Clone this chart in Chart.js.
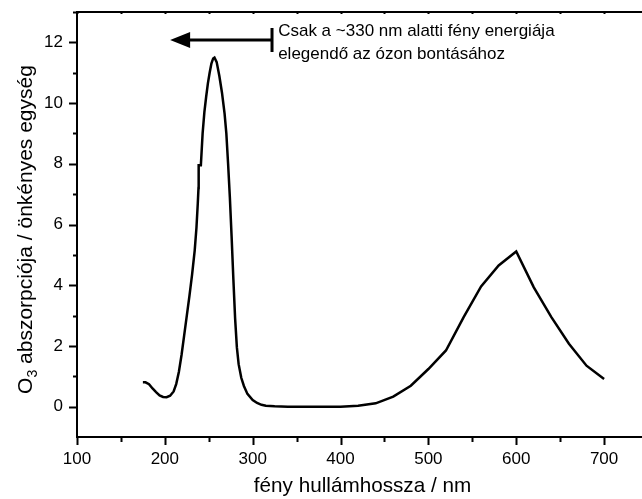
<!DOCTYPE html>
<html>
<head>
<meta charset="utf-8">
<title>O3 abszorpció</title>
<script src="https://cdn.jsdelivr.net/npm/chart.js@4.4.0/dist/chart.umd.min.js"></script>
<style>
  html, body { margin: 0; padding: 0; background: #fff; overflow: hidden; }
  #wrap { position: absolute; left: 0; top: 0; width: 680px; height: 499px; }
</style>
</head>
<body>
<div id="wrap"><canvas id="ozoneChart" width="680" height="499"></canvas></div>
<script>
/** Data **/
// wavelength / nm
var wavelengths = [
    175, 178, 182, 186, 190, 194, 198, 202, 206, 210, 213, 216, 219, 222, 225, 228, 231, 234, 236, 237.5,
    238.3, 238.5, 241, 243, 245, 247, 249, 251, 253, 255, 256.5, 259, 262, 265, 268, 270, 272, 274, 276, 278, 280, 282,
    284, 287, 290, 294, 300, 305, 310, 315, 325, 340, 400, 420, 440, 460, 480, 500, 520, 540, 560, 580, 600, 620, 640,
    660, 680, 700
];
// O3 absorption / arbitrary units
var absorbance = [
    0.80, 0.80, 0.74, 0.60, 0.48, 0.37, 0.32, 0.31, 0.36, 0.50, 0.75, 1.15, 1.70, 2.35, 3.00, 3.65, 4.35, 5.15, 5.90, 6.70,
    7.20, 7.95, 7.95, 9.00, 9.70, 10.20, 10.65, 11.00, 11.30, 11.47, 11.50, 11.35, 10.90, 10.35, 9.65, 9.00, 8.00, 6.90, 5.60, 4.20, 2.90, 1.95,
    1.40, 0.95, 0.68, 0.42, 0.22, 0.12, 0.06, 0.03, 0.01, 0.00, 0.00, 0.03, 0.11, 0.33, 0.69, 1.24, 1.85, 2.94, 3.96, 4.65, 5.11, 3.93, 2.95,
    2.07, 1.35, 0.91
];
var xTickLabels = [100, 200, 300, 400, 500, 600, 700];
var yTickLabels = [0, 2, 4, 6, 8, 10, 12];

// note with the arrow (in data units)
var arrowStart = 322;
var arrowEnd = 206;
var arrowLevel = 12.08;
var noteX = 329;
var noteLines = ['Csak a ~330 nm alatti fény energiája', 'elegendő az ózon bontásához'];
var noteLevels = [12.37, 11.62];

var xTitle = 'fény hullámhossza / nm';
var yTitleParts = ['O', '3', ' abszorpciója / önkényes egység'];

var FONT = '"Liberation Sans", Arial, sans-serif';
Chart.defaults.font.family = FONT;
Chart.defaults.color = '#000';

var points = wavelengths.map(function (w, i) { return { x: w, y: absorbance[i] }; });

// tick marks: long ones at labelled values, short ones between, plus the top frame line
var tickMarks = {
    id: 'tickMarks',
    afterDraw: function (chart) {
        var ctx = chart.ctx;
        var xs = chart.scales.x, ys = chart.scales.y;
        var area = chart.chartArea;
        ctx.save();
        ctx.strokeStyle = '#000';
        ctx.lineWidth = 2;
        ctx.lineCap = 'butt';
        xs.ticks.forEach(function (t) {
            var px = Math.round(xs.getPixelForValue(t.value)) + 0.5;
            var len = xTickLabels.indexOf(t.value) >= 0 ? 8 : 5;
            ctx.beginPath();
            ctx.moveTo(px, area.bottom);
            ctx.lineTo(px, area.bottom + len);
            ctx.moveTo(px, area.top);
            ctx.lineTo(px, area.top + 2);
            ctx.stroke();
        });
        ys.ticks.forEach(function (t) {
            if (t.value === ys.min) return;
            var py = Math.round(ys.getPixelForValue(t.value)) + 0.5;
            var len = yTickLabels.indexOf(t.value) >= 0 ? 8 : 4;
            ctx.beginPath();
            ctx.moveTo(area.left, py);
            ctx.lineTo(area.left - len, py);
            ctx.stroke();
        });
        // top frame
        ctx.beginPath();
        ctx.moveTo(area.left - 1, area.top);
        ctx.lineTo(area.right, area.top);
        ctx.stroke();
        ctx.restore();
    }
};

// y title with subscript 3
var yTitle = {
    id: 'yTitle',
    afterDraw: function (chart) {
        var ctx = chart.ctx;
        var area = chart.chartArea;
        var big = '21px ' + FONT, small = '14px ' + FONT;
        ctx.save();
        ctx.fillStyle = '#000';
        ctx.textBaseline = 'alphabetic';
        ctx.font = big;
        var w0 = ctx.measureText(yTitleParts[0]).width;
        var w2 = ctx.measureText(yTitleParts[2]).width;
        ctx.font = small;
        var w1 = ctx.measureText(yTitleParts[1]).width;
        var total = w0 + w1 + w2;
        ctx.translate(32, (area.top + area.bottom) / 2 + 5);
        ctx.rotate(-Math.PI / 2);
        var x = -total / 2;
        ctx.font = big;
        ctx.fillText(yTitleParts[0], x, 0);
        ctx.font = small;
        ctx.fillText(yTitleParts[1], x + w0, 5);
        ctx.font = big;
        ctx.fillText(yTitleParts[2], x + w0 + w1, 0);
        ctx.restore();
    }
};

// arrow + note
var arrowNote = {
    id: 'arrowNote',
    afterDraw: function (chart) {
        var ctx = chart.ctx;
        var xs = chart.scales.x, ys = chart.scales.y;
        var x0 = xs.getPixelForValue(arrowStart);
        var x1 = xs.getPixelForValue(arrowEnd);
        var y = ys.getPixelForValue(arrowLevel);
        ctx.save();
        ctx.strokeStyle = '#000';
        ctx.fillStyle = '#000';
        ctx.lineWidth = 3;
        ctx.beginPath();
        ctx.moveTo(x0, y - 12);
        ctx.lineTo(x0, y + 12);
        ctx.moveTo(x0, y);
        ctx.lineTo(x1 + 16, y);
        ctx.stroke();
        ctx.beginPath();
        ctx.moveTo(x1, y);
        ctx.lineTo(x1 + 20, y - 8);
        ctx.lineTo(x1 + 20, y + 8);
        ctx.closePath();
        ctx.fill();
        ctx.font = '17px ' + FONT;
        ctx.textBaseline = 'middle';
        ctx.textAlign = 'left';
        noteLines.forEach(function (line, i) {
            ctx.fillText(line, xs.getPixelForValue(noteX), ys.getPixelForValue(noteLevels[i]));
        });
        ctx.restore();
    }
};

var ctx = document.getElementById('ozoneChart');
var ozoneChart = new Chart(ctx, {
    type: 'scatter',
    data: {
        datasets: [{
            data: points,
            showLine: true,
            borderColor: '#000',
            borderWidth: 2.5,
            pointRadius: 0,
            pointHoverRadius: 0,
            tension: 0,
            fill: false
        }]
    },
    options: {
        responsive: false,
        devicePixelRatio: 1,
        animation: false,
        events: [],
        layout: { padding: { left: 0, right: 32, top: 12, bottom: 0 } },
        plugins: {
            legend: { display: false },
            tooltip: { enabled: false }
        },
        scales: {
            x: {
                type: 'linear',
                min: 100,
                max: 750,
                afterFit: function (s) { s.height = 62; s.paddingLeft = 0; s.paddingRight = 0; },
                border: { display: true, color: '#000', width: 2 },
                grid: { display: false, drawTicks: false },
                ticks: {
                    stepSize: 50,
                    autoSkip: false,
                    maxRotation: 0,
                    padding: 12,
                    font: { size: 17 },
                    callback: function (v) { return xTickLabels.indexOf(v) >= 0 ? String(v) : ''; }
                },
                title: {
                    display: true,
                    text: xTitle,
                    font: { size: 20.7 },
                    padding: { top: 0, bottom: 0 }
                }
            },
            y: {
                type: 'linear',
                min: -1,
                max: 13,
                afterFit: function (s) { s.width = 77; s.paddingTop = 0; s.paddingBottom = 0; },
                border: { display: true, color: '#000', width: 2 },
                grid: { display: false, drawTicks: false },
                ticks: {
                    stepSize: 1,
                    autoSkip: false,
                    padding: 14,
                    font: { size: 17 },
                    callback: function (v) { return yTickLabels.indexOf(v) >= 0 ? String(v) : ''; }
                }
            }
        }
    },
    plugins: [tickMarks, yTitle, arrowNote]
});
</script>
</body>
</html>
